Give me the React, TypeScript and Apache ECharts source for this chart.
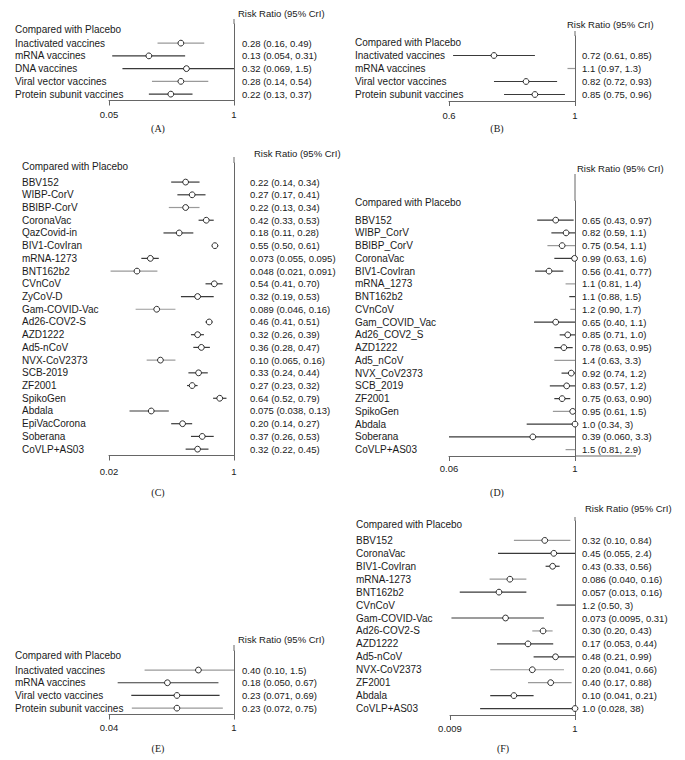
import React, { useEffect, useRef } from "react";
import * as echarts from "echarts";

const HEADER = "Compared with Placebo";
const RR_TITLE = "Risk Ratio (95% CrI)";

// ---- Panel A ----
const aNames = ["Inactivated vaccines", "mRNA vaccines", "DNA vaccines", "Viral vector vaccines", "Protein subunit vaccines"];
const aEst = ["0.28", "0.13", "0.32", "0.28", "0.22"];
const aLo = ["0.16", "0.054", "0.069", "0.14", "0.13"];
const aHi = ["0.49", "0.31", "1.5", "0.54", "0.37"];
const aTicks = [0.05, 1];

// ---- Panel B ----
const bNames = ["Inactivated vaccines", "mRNA vaccines", "Viral vector vaccines", "Protein subunit vaccines"];
const bEst = ["0.72", "1.1", "0.82", "0.85"];
const bLo = ["0.61", "0.97", "0.72", "0.75"];
const bHi = ["0.85", "1.3", "0.93", "0.96"];
const bTicks = [0.6, 1];

// ---- Panel C ----
const cNames = ["BBV152", "WIBP-CorV", "BBIBP-CorV", "CoronaVac", "QazCovid-in", "BIV1-CovIran", "mRNA-1273", "BNT162b2", "CVnCoV", "ZyCoV-D", "Gam-COVID-Vac", "Ad26-COV2-S", "AZD1222", "Ad5-nCoV", "NVX-CoV2373", "SCB-2019", "ZF2001", "SpikoGen", "Abdala", "EpiVacCorona", "Soberana", "CoVLP+AS03"];
const cEst = ["0.22", "0.27", "0.22", "0.42", "0.18", "0.55", "0.073", "0.048", "0.54", "0.32", "0.089", "0.46", "0.32", "0.36", "0.10", "0.33", "0.27", "0.64", "0.075", "0.20", "0.37", "0.32"];
const cLo = ["0.14", "0.17", "0.13", "0.33", "0.11", "0.50", "0.055", "0.021", "0.41", "0.19", "0.046", "0.41", "0.26", "0.28", "0.065", "0.24", "0.23", "0.52", "0.038", "0.14", "0.26", "0.22"];
const cHi = ["0.34", "0.41", "0.34", "0.53", "0.28", "0.61", "0.095", "0.091", "0.70", "0.53", "0.16", "0.51", "0.39", "0.47", "0.16", "0.44", "0.32", "0.79", "0.13", "0.27", "0.53", "0.45"];
const cTicks = [0.02, 1];

// ---- Panel D ----
const dNames = ["BBV152", "WIBP_CorV", "BBIBP_CorV", "CoronaVac", "BIV1-CovIran", "mRNA_1273", "BNT162b2", "CVnCoV", "Gam_COVID_Vac", "Ad26_COV2_S", "AZD1222", "Ad5_nCoV", "NVX_CoV2373", "SCB_2019", "ZF2001", "SpikoGen", "Abdala", "Soberana", "CoVLP+AS03"];
const dEst = ["0.65", "0.82", "0.75", "0.99", "0.56", "1.1", "1.1", "1.2", "0.65", "0.85", "0.78", "1.4", "0.92", "0.83", "0.75", "0.95", "1.0", "0.39", "1.5"];
const dLo = ["0.43", "0.59", "0.54", "0.63", "0.41", "0.81", "0.88", "0.90", "0.40", "0.71", "0.63", "0.63", "0.74", "0.57", "0.63", "0.61", "0.34", "0.060", "0.81"];
const dHi = ["0.97", "1.1", "1.1", "1.6", "0.77", "1.4", "1.5", "1.7", "1.1", "1.0", "0.95", "3.3", "1.2", "1.2", "0.90", "1.5", " 3", "3.3", "2.9"];
const dTicks = [0.06, 1];

// ---- Panel E ----
const eNames = ["Inactivated vaccines", "mRNA vaccines", "Viral vecto vaccines", "Protein subunit vaccines"];
const eEst = ["0.40", "0.18", "0.23", "0.23"];
const eLo = ["0.10", "0.050", "0.071", "0.072"];
const eHi = ["1.5", "0.67", "0.69", "0.75"];
const eTicks = [0.04, 1];

// ---- Panel F ----
const fNames = ["BBV152", "CoronaVac", "BIV1-CovIran", "mRNA-1273", "BNT162b2", "CVnCoV", "Gam-COVID-Vac", "Ad26-COV2-S", "AZD1222", "Ad5-nCoV", "NVX-CoV2373", "ZF2001", "Abdala", "CoVLP+AS03"];
const fEst = ["0.32", "0.45", "0.43", "0.086", "0.057", "1.2", "0.073", "0.30", "0.17", "0.48", "0.20", "0.40", "0.10", "1.0"];
const fLo = ["0.10", "0.055", "0.33", "0.040", "0.013", "0.50", "0.0095", "0.20", "0.053", "0.21", "0.041", "0.17", "0.041", "0.028"];
const fHi = ["0.84", "2.4", "0.56", "0.16", "0.16", " 3", "0.31", "0.43", "0.44", "0.99", "0.66", "0.88", "0.21", "38"];
const fTicks = [0.009, 1];

const panelData = [
  { letter: "(A)", names: aNames, est: aEst, lo: aLo, hi: aHi, ticks: aTicks },
  { letter: "(B)", names: bNames, est: bEst, lo: bLo, hi: bHi, ticks: bTicks },
  { letter: "(C)", names: cNames, est: cEst, lo: cLo, hi: cHi, ticks: cTicks },
  { letter: "(D)", names: dNames, est: dEst, lo: dLo, hi: dHi, ticks: dTicks },
  { letter: "(E)", names: eNames, est: eEst, lo: eLo, hi: eHi, ticks: eTicks },
  { letter: "(F)", names: fNames, est: fEst, lo: fLo, hi: fHi, ticks: fTicks },
];

// ---- styles: line tone per row (0 = dark, 1 = light grey) ----
const aTone = [1, 0, 0, 1, 0];
const bTone = [0, 1, 0, 0];
const cTone = [0, 0, 1, 0, 0, 0, 0, 1, 0, 0, 1, 0, 0, 0, 1, 0, 0, 0, 0, 0, 0, 0];
const dTone = [0, 0, 1, 0, 0, 1, 0, 1, 0, 0, 0, 1, 0, 0, 0, 1, 0, 0, 1];
const eTone = [1, 0, 0, 1];
const fTone = [1, 0, 0, 1, 0, 0, 0, 1, 0, 0, 1, 1, 0, 0];
const tones = [aTone, bTone, cTone, dTone, eTone, fTone];
const TONE_COLORS = ["#3a3a3a", "#9a9a9a"];

// ---- layout (pixels) ----
const layouts = [
  { left: 109, one: 234, top: 24, height: 76.5, labelX: 15, valMargin: 8, tickMargin: 9, rrX: 238, rrY: 13, letX: 158, letY: 128, lineTop: 19, hdrShift: 1 },
  { left: 449, one: 575, top: 36, height: 65, labelX: 355, valMargin: 7, tickMargin: 9, rrX: 567, rrY: 24, letX: 497, letY: 128, lineTop: 31, hdrShift: 0 },
  { left: 109, one: 234, top: 163, height: 292.5, labelX: 22, valMargin: 16, tickMargin: 11, rrX: 254, rrY: 153, letX: 158, letY: 492, lineTop: 157, hdrShift: 3 },
  { left: 449, one: 575, top: 201, height: 255, labelX: 355, valMargin: 7, tickMargin: 7, rrX: 577, rrY: 168, letX: 497, letY: 492, lineTop: 174, hdrShift: 5 },
  { left: 109, one: 234, top: 651, height: 63.5, labelX: 15, valMargin: 8, tickMargin: 8, rrX: 238, rrY: 639, letX: 158, letY: 748, lineTop: 645, hdrShift: 2 },
  { left: 450, one: 575, top: 521, height: 194, labelX: 356, valMargin: 7, tickMargin: 8, rrX: 585, rrY: 508, letX: 503, letY: 748, lineTop: 517, hdrShift: 3 },
];

const FONT = "'Liberation Sans', Arial, sans-serif";
const TEXT = "#1a1a1a";
const AXIS = "#666";

function fmtTick(v: number) {
  const r = Math.pow(10, v);
  return String(Number(r.toPrecision(6)));
}

export default function App() {
  const ref = useRef<HTMLDivElement>(null);
  useEffect(() => {
    if (!ref.current) return;
    const chart = echarts.init(ref.current, undefined, { renderer: "svg" });
    const grid: any[] = [];
    const xAxis: any[] = [];
    const yAxis: any[] = [];
    const series: any[] = [];
    const graphic: any[] = [];

    panelData.forEach((p, i) => {
      const L = layouts[i];
      const tone = tones[i];
      const minLog = Math.log10(p.ticks[0]);
      grid.push({ left: L.left, top: L.top, width: L.one - L.left, height: L.height });
      xAxis.push({
        gridIndex: i,
        type: "value",
        min: minLog,
        max: 0,
        interval: -minLog,
        axisLine: { show: true, lineStyle: { color: AXIS, width: 1 } },
        axisTick: { show: true, length: 5, lineStyle: { color: AXIS, width: 1 } },
        axisLabel: { margin: L.tickMargin, fontSize: 9.5, color: TEXT, fontFamily: FONT, formatter: fmtTick },
        splitLine: { show: false },
      });
      yAxis.push({
        gridIndex: i,
        type: "category",
        inverse: true,
        data: [HEADER, ...p.names],
        axisLine: { show: false },
        axisTick: { show: false },
        axisLabel: {
          interval: 0,
          align: "left",
          margin: L.left - L.labelX,
          fontSize: 10,
          color: TEXT,
          fontFamily: FONT,
          formatter: (v: string) => (v === HEADER ? `{h|${v}}` : v),
          rich: { h: { fontSize: 10, color: TEXT, fontFamily: FONT, padding: [0, 0, L.hdrShift * 2, 0] } },
        },
        splitLine: { show: false },
      });
      yAxis.push({
        gridIndex: i,
        type: "category",
        position: "right",
        inverse: true,
        data: ["", ...p.names.map((_, k) => `${p.est[k]} (${p.lo[k]}, ${p.hi[k].trim()})`)],
        axisLine: { show: true, lineStyle: { color: AXIS, width: 1 } },
        axisTick: { show: false },
        axisLabel: { interval: 0, align: "left", margin: L.valMargin, fontSize: 9.5, color: TEXT, fontFamily: FONT },
        splitLine: { show: false },
      });
      series.push({
        type: "custom",
        xAxisIndex: i,
        yAxisIndex: 2 * i,
        encode: { x: [0, 1, 2], y: 3 },
        data: p.names.map((_, k) => [
          Math.log10(Number(p.est[k])),
          Math.log10(Number(p.lo[k])),
          Math.log10(Number(p.hi[k])),
          k + 1,
          tone[k],
        ]),
        renderItem: (params: any, api: any) => {
          const row = api.value(3);
          const est = api.value(0);
          const lo = api.value(1);
          const hi = Math.min(api.value(2), 0);
          const col = TONE_COLORS[api.value(4)] || TONE_COLORS[0];
          const pLo = api.coord([lo, row]);
          const pHi = api.coord([hi, row]);
          const pEst = api.coord([est, row]);
          const children: any[] = [];
          if (lo < 0) {
            children.push({
              type: "line",
              shape: { x1: pLo[0], y1: pLo[1], x2: pHi[0], y2: pHi[1] },
              style: { stroke: col, lineWidth: 1.2 },
            });
          }
          if (est <= 1e-9) {
            children.push({
              type: "circle",
              shape: { cx: pEst[0], cy: pEst[1], r: 2.9 },
              style: { fill: "#fff", stroke: "#2a2a2a", lineWidth: 1 },
            });
          }
          return { type: "group", children };
        },
      });
      graphic.push({
        type: "line",
        shape: { x1: L.one, y1: L.lineTop, x2: L.one, y2: L.top },
        style: { stroke: AXIS, lineWidth: 1 },
      });
      graphic.push({
        type: "text",
        x: L.rrX,
        y: L.rrY,
        style: { text: RR_TITLE, fontSize: 9.5, fill: TEXT, fontFamily: FONT, textVerticalAlign: "middle" },
      });
      graphic.push({
        type: "text",
        x: L.letX,
        y: L.letY,
        style: { text: p.letter, fontSize: 10, fill: TEXT, fontFamily: "'Liberation Serif', serif", textAlign: "center", textVerticalAlign: "middle" },
      });
    });

    // extension of panel D baseline beyond 1
    const D = layouts[3];
    graphic.push({
      type: "line",
      shape: { x1: D.one, y1: D.top + D.height, x2: 636, y2: D.top + D.height },
      style: { stroke: AXIS, lineWidth: 1 },
    });

    chart.setOption({
      animation: false,
      backgroundColor: "#fff",
      grid,
      xAxis,
      yAxis,
      series,
      graphic,
    });
    return () => chart.dispose();
  }, []);
  return <div ref={ref} style={{ position: "fixed", left: 0, top: 0, width: 685, height: 760, background: "#fff" }} />;
}
